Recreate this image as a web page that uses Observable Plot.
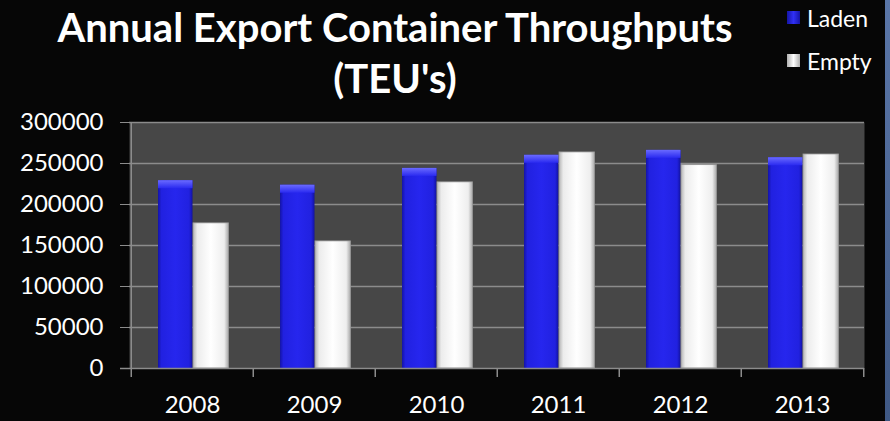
<!DOCTYPE html>
<html><head><meta charset="utf-8">
<script src="https://cdn.jsdelivr.net/npm/d3@7"></script>
<script src="https://cdn.jsdelivr.net/npm/@observablehq/plot@0.6"></script>
<style>
html,body{margin:0;padding:0;background:#060606;}
#wrap{position:relative;width:890px;height:421px;background:#060606;overflow:hidden;font-family:Lato,"Open Sans",sans-serif;}
#title{position:absolute;left:0;top:2px;width:790px;text-align:center;color:#fff;font-weight:bold;font-size:40px;line-height:51px;}
#legend{position:absolute;left:787px;top:-4px;color:#fff;font-size:23px;}
.item{display:flex;align-items:center;height:43px;}
.sw{width:13px;height:13px;margin-right:7px;}
#strip{position:absolute;right:0;top:0;width:5px;height:421px;background:linear-gradient(#5a76a8,#3f5884);}
#chart{position:absolute;left:0;top:0;}
#chart svg text{fill:#fff;}
</style></head>
<body>
<div id="wrap">
  <div id="chart"></div>
  <div id="title">Annual Export Container Throughputs<br>(TEU's)</div>
  <div id="legend"></div>
  <div id="strip"></div>
</div>
<script>
const years = ["2008", "2009", "2010", "2011", "2012", "2013"];
const laden = [229000, 223500, 244000, 260000, 266000, 257000];
const empty = [177000, 155000, 227000, 263500, 248000, 261000];
const seriesNames = ["Laden", "Empty"];
const yTicks = [0, 50000, 100000, 150000, 200000, 250000, 300000];

const data = years.flatMap((yr, i) => [
  {year: yr, series: seriesNames[0], value: laden[i]},
  {year: yr, series: seriesNames[1], value: empty[i]}
]);
const ladenData = data.filter(d => d.series === "Laden");
const emptyData = data.filter(d => d.series === "Empty");

const W = 890, H = 421, mL = 129, mR = 26;
const half = (W - mL - mR) / years.length / 2;
const axisGray = "#8c8c8c";

const svg = Plot.plot({
  width: W, height: H,
  marginTop: 122, marginBottom: 53, marginLeft: mL, marginRight: mR,
  style: {background: "transparent", color: axisGray, fontFamily: "Lato, 'Open Sans', sans-serif", fontSize: "24px"},
  x: {domain: years, padding: 0, label: null, tickSize: 0, tickPadding: 27},
  y: {domain: [0, 300000], ticks: yTicks, label: null, tickSize: 9, tickPadding: 17, tickFormat: d3.format("d")},
  marks: [
    Plot.frame({fill: "#474747", stroke: null}),
    Plot.ruleY(yTicks.slice(1), {stroke: axisGray, strokeWidth: 1.5}),
    Plot.barY(ladenData, {x: "year", y: "value", fill: "url(#gLaden)", insetLeft: 27, insetRight: half * 2 - 62}),
    Plot.barY(ladenData, {x: "year", y1: "value", y2: "value", insetBottom: -8, insetLeft: 27, insetRight: half * 2 - 62, fill: "url(#gLadenTop)"}),
    Plot.barY(emptyData, {x: "year", y: "value", fill: "url(#gEmpty)", stroke: "#9a9a9a", strokeWidth: 0.8, insetLeft: 62, insetRight: half * 2 - 98}),
    Plot.ruleY([0], {stroke: axisGray, strokeWidth: 1.5, insetLeft: -9}),
    Plot.ruleX([years[0]], {dx: -half, y1: -11000, y2: 300000, stroke: axisGray, strokeWidth: 1.5}),
    Plot.ruleX(years.slice(1), {dx: -half, y1: -11000, y2: 0, stroke: axisGray, strokeWidth: 1.5}),
    Plot.ruleX([years[years.length - 1]], {dx: half, y1: -11000, y2: 0, stroke: axisGray, strokeWidth: 1.5})
  ]
});

const defs = d3.select(svg).insert("defs", ":first-child");
function hgrad(id, stops) {
  const g = defs.append("linearGradient").attr("id", id).attr("x1", 0).attr("x2", 1).attr("y1", 0).attr("y2", 0);
  stops.forEach(([o, c]) => g.append("stop").attr("offset", o).attr("stop-color", c));
}
function vgrad(id, stops) {
  const g = defs.append("linearGradient").attr("id", id).attr("x1", 0).attr("x2", 0).attr("y1", 0).attr("y2", 1);
  stops.forEach(([o, c]) => g.append("stop").attr("offset", o).attr("stop-color", c));
}
hgrad("gLaden", [["0", "#1414a6"], ["0.1", "#2121e0"], ["0.5", "#2626ee"], ["0.9", "#2121e0"], ["1", "#1212a0"]]);
vgrad("gLadenTop", [["0", "#6a6aff"], ["1", "#2a2af0"]]);
hgrad("gEmpty", [["0", "#b4b4b4"], ["0.12", "#ececec"], ["0.5", "#ffffff"], ["0.88", "#eeeeee"], ["1", "#a8a8a8"]]);

document.getElementById("chart").appendChild(svg);

const legend = document.getElementById("legend");
const swatchBg = {Laden: "linear-gradient(90deg,#1414a6,#3030f4,#1414a6)", Empty: "linear-gradient(90deg,#b0b0b0,#ffffff,#b0b0b0)"};
seriesNames.forEach(name => {
  const it = document.createElement("div");
  it.className = "item";
  const sw = document.createElement("span");
  sw.className = "sw";
  sw.style.background = swatchBg[name];
  const tx = document.createElement("span");
  tx.textContent = name;
  it.appendChild(sw); it.appendChild(tx);
  legend.appendChild(it);
});
</script>
</body></html>
